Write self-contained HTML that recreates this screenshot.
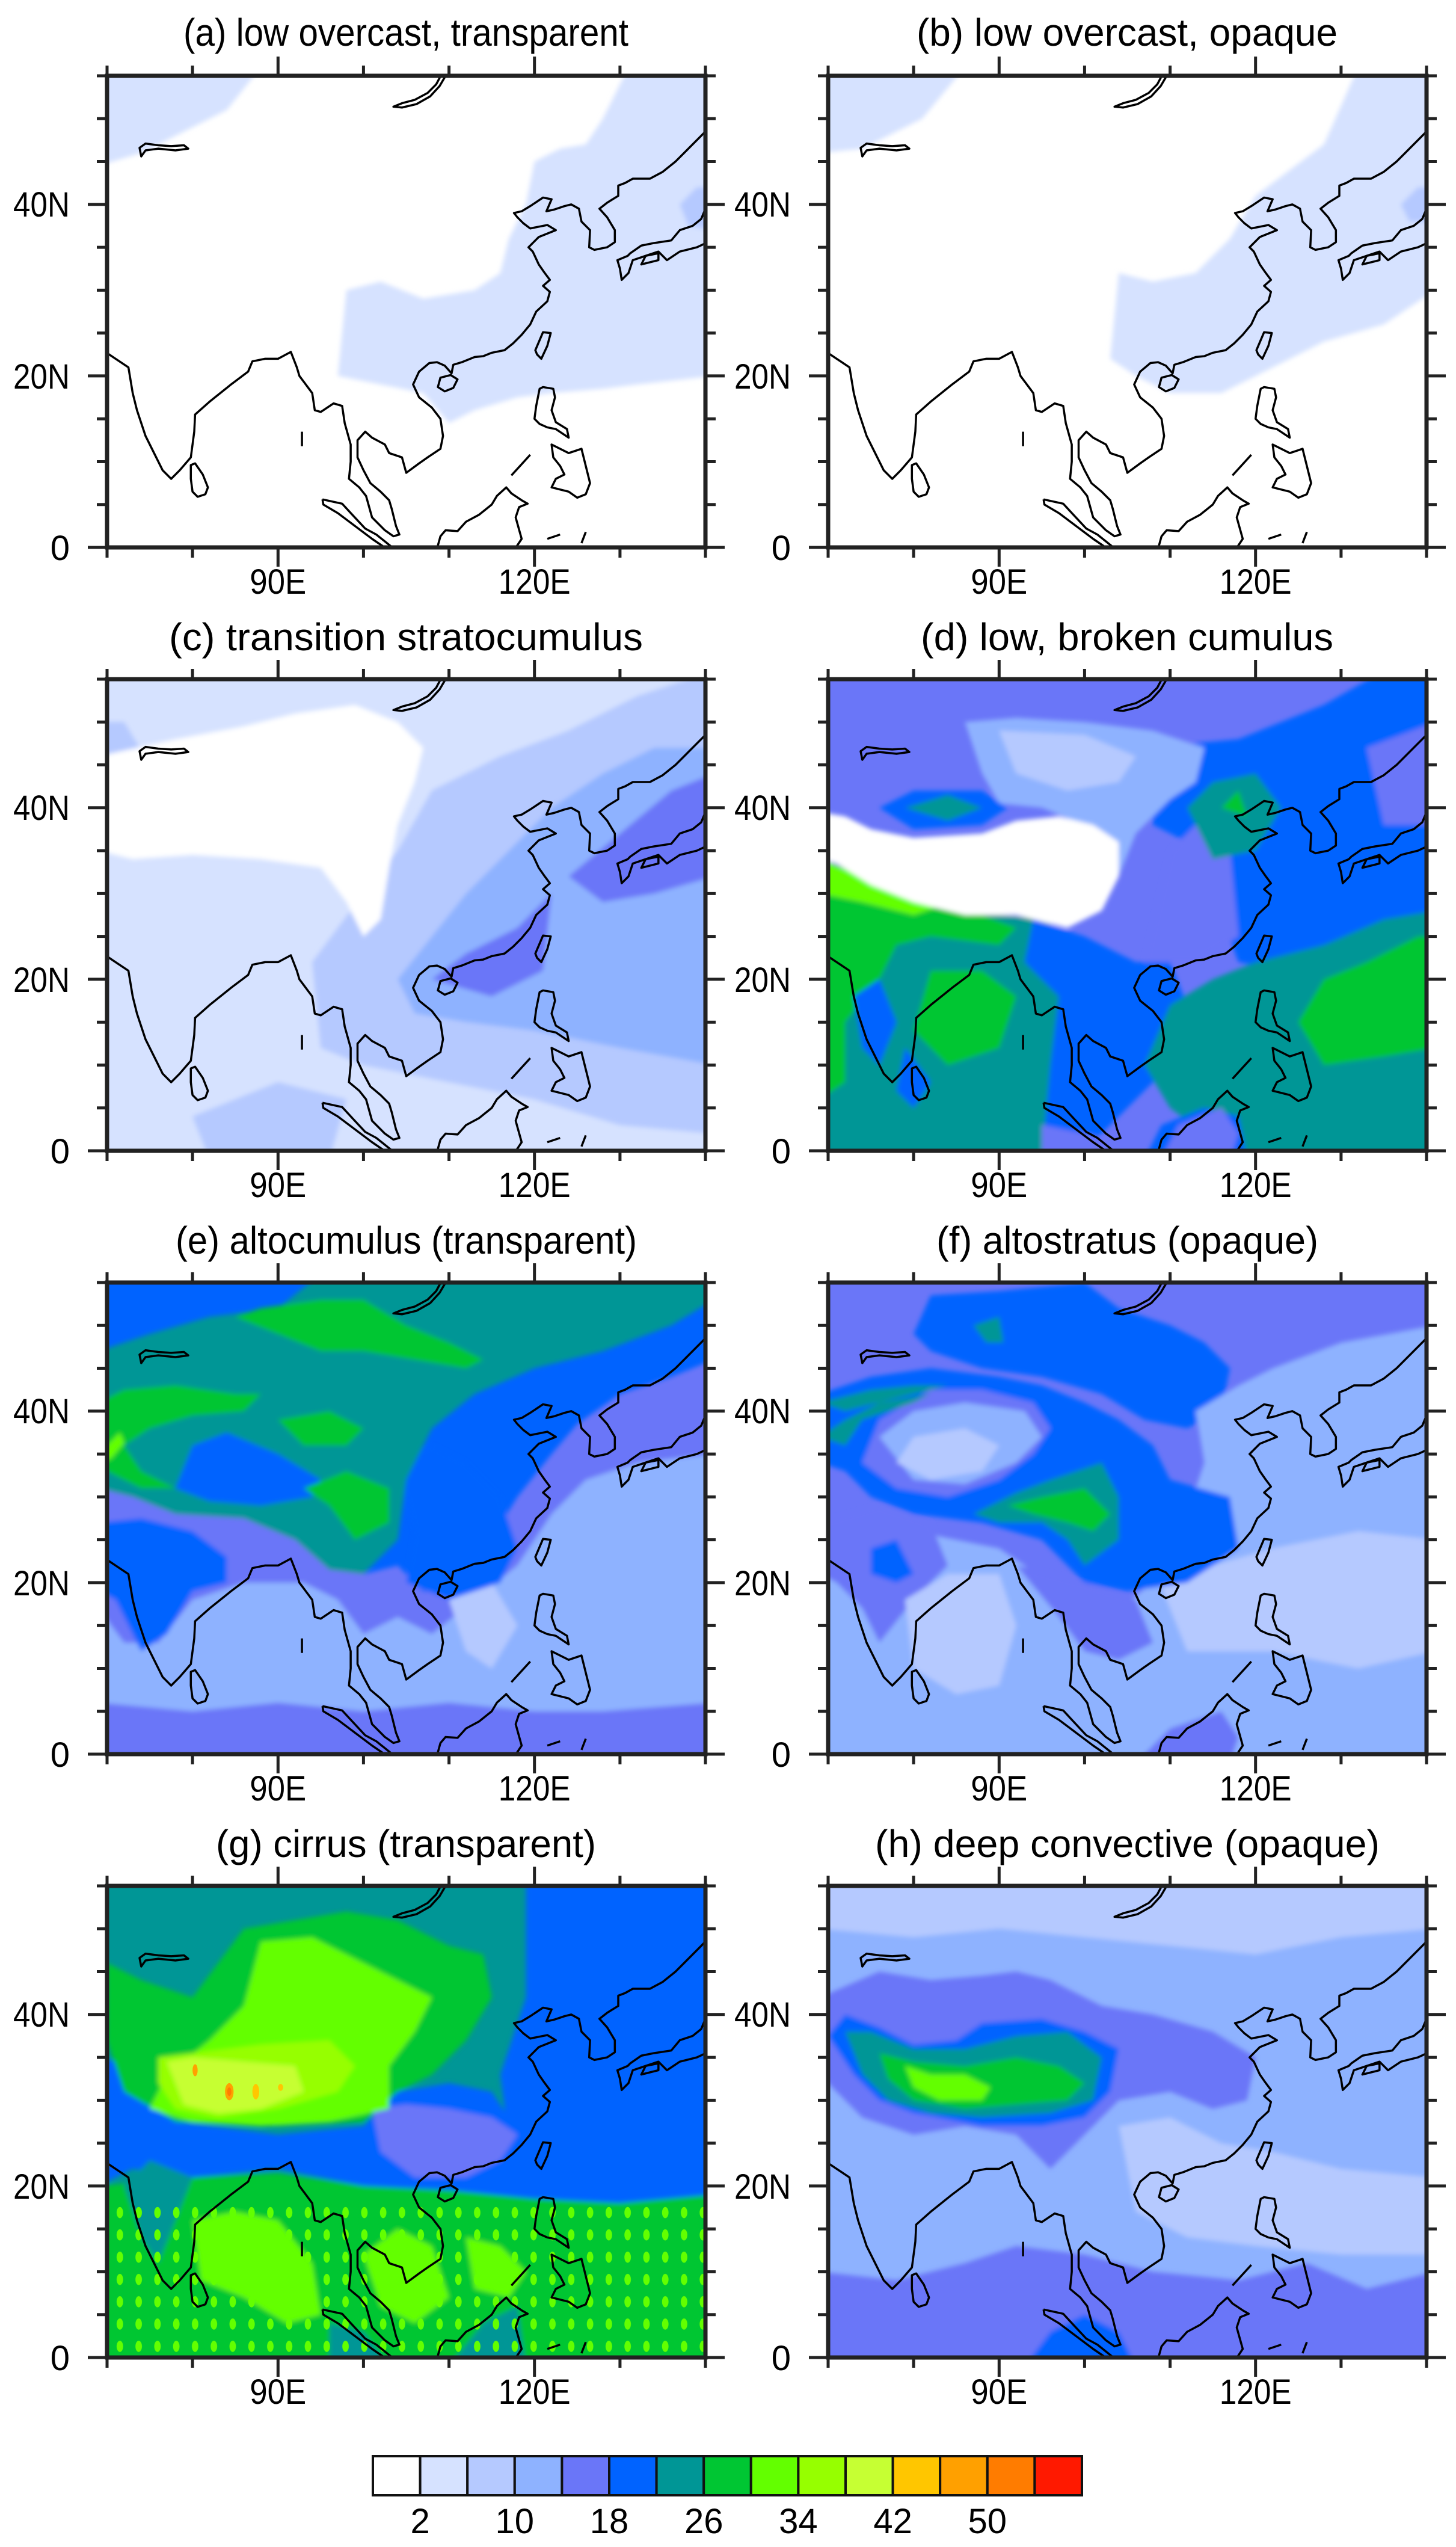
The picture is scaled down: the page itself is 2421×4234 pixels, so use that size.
<!DOCTYPE html>
<html><head><meta charset="utf-8"><style>
html,body{margin:0;padding:0;background:#fff}
svg{display:block}
text{font-family:"Liberation Sans",Arial,sans-serif;fill:#000}
</style></head><body>
<svg xmlns="http://www.w3.org/2000/svg" xmlns:xlink="http://www.w3.org/1999/xlink" width="2421" height="4234" viewBox="0 0 2421 4234">
<defs>
<filter id="b" x="-5%" y="-5%" width="110%" height="110%"><feGaussianBlur stdDeviation="0.28"/></filter>
<pattern id="sp" patternUnits="userSpaceOnUse" width="2.2" height="2.6"><ellipse cx="1.1" cy="1.3" rx="0.38" ry="0.65" fill="#63ff00"/></pattern>
<g id="coast" fill="none" stroke="#000" stroke-width="3.5" stroke-linejoin="round">
<path vector-effect="non-scaling-stroke" d="M69.5,-23 L71,-22 72.5,-21 73,-18 73.5,-16 74.5,-13 75.5,-11 76.5,-9 77.5,-8 78.5,-9 79.8,-10.5 80.2,-13.5 80.3,-15.5 82,-17 84.5,-19 86.5,-20.5 87,-21.7 88.5,-22 90,-22 91.5,-22.8 92.2,-21 92.5,-20 94,-18 94.3,-16 95,-15.8 96.5,-16.8 97.5,-16.5 97.8,-14.5 98.5,-12 98.5,-10 98.3,-8 99.5,-7 100.3,-6 101,-3.5 102.5,-2 103.5,-1.3 104.2,-1.5 103.8,-2.5 103.3,-4.5 103,-5.5 102,-6.5 100.8,-7.5 100,-9 99.3,-10.5 99.3,-12.5 100.2,-13.5 101,-12.8 102.5,-12 103,-11 104.5,-10.5 105,-8.7 106.5,-9.8 107.5,-10.5 109,-11.5 109.3,-13 109,-15 108,-16.3 106.5,-17.5 105.8,-19 106.5,-20.5 107.7,-21.5 108.6,-21.6 109.5,-21.2 110.3,-20.3 110.5,-21.3 111.5,-21.6 113,-22.2 114,-22.3 115,-22.7 116.5,-23 117.5,-23.8 118.5,-24.8 119.5,-26 120.2,-27.5 121.5,-28.7 121.8,-29.8 121,-30.5 121.8,-31.2 121.2,-32 120.5,-33 119.8,-34.5 119.3,-35 120.5,-36.2 122.5,-37 121.5,-37.6 119.5,-37.2 118.7,-37.8 118,-38.5 117.6,-39 118.5,-39.2 119.5,-39.8 121,-40.8 122,-40.6 121.4,-39.2 122.3,-39.4 123.5,-39.8 124.3,-40 125.2,-39.5 125.5,-38 126.5,-37 126.4,-35 127,-34.7 128.5,-35 129.4,-35.6 129.4,-37 128.5,-38.5 127.6,-39.5 128.5,-40.2 129.8,-41 129.8,-42.2 130.6,-42.5 131.5,-43 133.5,-43 135,-43.8 136.5,-45 138,-46.5 139,-47.5 140.5,-49"/>
<path vector-effect="non-scaling-stroke" d="M73.8,-46.6 L74.5,-47.1 76,-46.9 77.5,-46.8 79,-46.9 79.5,-46.5 78,-46.3 76,-46.5 74.5,-46.3 74,-45.6 Z"/>
<path vector-effect="non-scaling-stroke" d="M103.5,-51.4 L104.5,-51.8 106,-52.2 107.5,-53 108.5,-54 109.3,-55.5 109.9,-55.5 108.9,-53.8 107.8,-52.6 106.2,-51.7 104.5,-51.3 Z"/>
<path vector-effect="non-scaling-stroke" d="M79.8,-9.6 L80.3,-9.8 81.2,-8.5 81.8,-7 81.5,-6.2 80.6,-5.9 80,-6.5 79.8,-8 Z"/>
<path vector-effect="non-scaling-stroke" d="M120.1,-23 L121,-25.1 121.9,-25 121.5,-23.5 120.8,-22 120.3,-22.5 Z"/>
<path vector-effect="non-scaling-stroke" d="M108.7,-18.7 L109,-19.8 110.2,-20.1 111,-19.6 110.5,-18.6 109.5,-18.2 Z"/>
<path vector-effect="non-scaling-stroke" d="M95.2,-5.6 L97.5,-5.1 98.7,-3.8 100.2,-2.2 101.5,-1.5 103,-0.3 104,0.5 M103.2,0.5 L101,-1 99,-2.5 97,-4 95.3,-5 95.2,-5.6"/>
<path vector-effect="non-scaling-stroke" d="M108.5,0.5 L109,-1.3 109.6,-2 111,-1.9 112,-3 113.5,-3.8 115,-5 115.6,-6 116.7,-7 117.3,-6.3 118.5,-5.5 119.2,-5.1 118.2,-4.7 117.8,-3.5 118.5,-1 117.5,0.5"/>
<path vector-effect="non-scaling-stroke" d="M140.5,-35.7 L139,-35 137,-34.5 135.5,-33.5 134.5,-34.5 133,-34 131.5,-33.5 131,-32 130.2,-31.2 130,-32.5 129.7,-33.5 130.9,-34 131.2,-34.3 132.5,-35.2 134,-35.5 136,-35.8 137,-37 138.5,-37.5 139.5,-38.3 140,-39.5 140.5,-40"/>
<path vector-effect="non-scaling-stroke" d="M132.5,-33 L134.5,-33.5 134.5,-34.3 133,-34 Z"/>
<path vector-effect="non-scaling-stroke" d="M120.6,-18.5 L120.2,-16.5 120,-15 120.6,-14.4 121.5,-14 122.5,-13.8 124,-12.8 123.8,-13.8 122.5,-14.6 122,-16 122.4,-17.5 122.2,-18.5 121,-18.7 Z"/>
<path vector-effect="non-scaling-stroke" d="M122,-12 L124,-11 125.5,-11.5 126,-9.5 126.5,-7.5 126,-6.2 125,-5.8 124,-6.5 122,-7 122.5,-8 123.5,-8.5 123,-9.5 122.2,-10.5 Z"/>
<path vector-effect="non-scaling-stroke" d="M117.3,-8.4 L119.5,-10.8 M92.8,-13.5 L92.8,-11.8 M121.5,-1 L123,-1.5 M125.5,-0.5 L126,-1.8"/>
</g>
<g id="axes" stroke="#222" fill="none">
<rect x="0" y="0" width="995" height="784" stroke-width="7"/>
<g stroke-width="5">
<path d="M0,0V-17M142.1,0V-17M284.3,0V-32M426.4,0V-17M568.6,0V-17M710.7,0V-32M852.9,0V-17M995,0V-17"/>
<path d="M0,784V801M142.1,784V801M284.3,784V816M426.4,784V801M568.6,784V801M710.7,784V816M852.9,784V801M995,784V801"/>
<path d="M0,784H-32M0,712.7H-17M0,641.5H-17M0,570.2H-17M0,498.9H-32M0,427.6H-17M0,356.4H-17M0,285.1H-17M0,213.8H-32M0,142.5H-17M0,71.3H-17M0,0H-17"/>
<path d="M995,784H1027M995,712.7H1012M995,641.5H1012M995,570.2H1012M995,498.9H1027M995,427.6H1012M995,356.4H1012M995,285.1H1012M995,213.8H1027M995,142.5H1012M995,71.3H1012M995,0H1012"/>
</g>
</g>
<g id="lbl" font-size="58">
<text x="-156" y="234" textLength="94" lengthAdjust="spacingAndGlyphs">40N</text>
<text x="-156" y="520" textLength="94" lengthAdjust="spacingAndGlyphs">20N</text>
<text x="-62" y="805" text-anchor="end">0</text>
<text x="237.3" y="861" textLength="94" lengthAdjust="spacingAndGlyphs">90E</text>
<text x="650.7" y="861" textLength="120" lengthAdjust="spacingAndGlyphs">120E</text>
</g>
</defs>

<!-- (a) -->
<g transform="translate(178,126)">
<svg width="995" height="784" viewBox="70 -55 70 55" preserveAspectRatio="none">
<rect x="69" y="-56" width="72" height="57" fill="#fff"/>
<g filter="url(#b)">
<polygon fill="#d6e2ff" points="69,-56 88,-56 84,-51 79,-48.5 74,-46 69,-44.5"/>
<polygon fill="#d6e2ff" points="97,-20 98,-30 102,-31 107,-29 113,-30 116,-32 117,-36 119,-40 120,-45 123,-46.5 126,-47 128,-50 131,-56 141,-56 141,-20 132,-19 128,-18.5 122,-18 118,-17.5 113,-16 110,-14.5 107,-18 102,-19"/>
<polygon fill="#b5c9ff" points="137,-40 139,-42 141,-42 141,-37 138,-37.5"/>
</g>
<use xlink:href="#coast"/>
</svg>
<use xlink:href="#axes"/><use xlink:href="#lbl"/>
<text x="127" y="-50" font-size="64" textLength="740" lengthAdjust="spacingAndGlyphs">(a) low overcast, transparent</text>
</g>

<!-- (b) -->
<g transform="translate(1377,126)">
<svg width="995" height="784" viewBox="70 -55 70 55" preserveAspectRatio="none">
<rect x="69" y="-56" width="72" height="57" fill="#fff"/>
<g filter="url(#b)">
<polygon fill="#d6e2ff" points="69,-56 86,-56 81,-50 74,-46.5 69,-46"/>
<polygon fill="#d6e2ff" points="103,-22 104,-32 108,-31 113,-32 117,-36 120,-41 124,-44 128,-47 132,-56 141,-56 141,-30 135,-26 128,-24 122,-21 116,-18 110,-18 106,-20"/>
<polygon fill="#b5c9ff" points="137,-40 139,-42 141,-42 141,-38 138,-38"/>
</g>
<use xlink:href="#coast"/>
</svg>
<use xlink:href="#axes"/><use xlink:href="#lbl"/>
<text x="147" y="-50" font-size="64" textLength="700" lengthAdjust="spacingAndGlyphs">(b) low overcast, opaque</text>
</g>

<!-- (c) -->
<g transform="translate(178,1129)">
<svg width="995" height="784" viewBox="70 -55 70 55" preserveAspectRatio="none">
<rect x="69" y="-56" width="72" height="57" fill="#d6e2ff"/>
<g filter="url(#b)">
<polygon fill="#b5c9ff" points="94,-22 100,-30 104,-35 108,-42 116,-46 124,-49 132,-53 141,-56 141,-2 130,-3 120,-6 110,-8 100,-10 95,-12"/>
<polygon fill="#b5c9ff" points="69,-44 75,-45 72,-50 69,-50"/>
<polygon fill="#b5c9ff" points="80,-4 90,-8 98,-6 96,1 82,1"/>
<polygon fill="#8eb2ff" points="104,-20 108,-25 112,-30 117,-35 122,-40 128,-44 134,-47 141,-47 141,-10 130,-12 120,-14 112,-15 106,-16"/>
<polygon fill="#6a76f8" points="108,-20 112,-23 118,-26 122,-30 121,-21 115,-18"/>
<polygon fill="#6a76f8" points="124,-32 130,-37 136,-42 141,-44 141,-32 134,-30 128,-29"/>
<polygon fill="#fff" points="69,-35 69,-46 78,-48 86,-49.5 92,-51 99,-52 104,-50 107,-47 106,-43 104,-38 103,-33 102,-27 100,-25 98,-29 95,-33 88,-34 80,-34.5 73,-34"/>
</g>
<use xlink:href="#coast"/>
</svg>
<use xlink:href="#axes"/><use xlink:href="#lbl"/>
<text x="103" y="-48" font-size="64" textLength="788" lengthAdjust="spacingAndGlyphs">(c) transition stratocumulus</text>
</g>

<!-- (d) -->
<g transform="translate(1377,1129)">
<svg width="995" height="784" viewBox="70 -55 70 55" preserveAspectRatio="none">
<rect x="69" y="-56" width="72" height="57" fill="#6a76f8"/>
<g filter="url(#b)">
<polygon fill="#0063ff" points="107,-47 118,-48 128,-52 135,-56 141,-56 141,-20 128,-20 118,-22 115,-30 112,-36 108,-38"/>
<polygon fill="#6a76f8" points="110,-35 113,-38 117,-35 118,-25 113,-22 107,-22"/>
<polygon fill="#6a76f8" points="133,-47 141,-50 141,-38 135,-38"/>
<polygon fill="#009696" points="112,-40 115,-43 120,-44 123,-40 120,-35 115,-34"/>
<polygon fill="#00c633" points="116,-40 118,-42 119,-39"/>
<polygon fill="#8eb2ff" points="86,-50 92,-50.5 100,-50 108,-49 114,-47 113,-43 110,-41 106,-37 104,-32 101,-34 100,-38 95,-40 90,-40.5 88,-44"/>
<polygon fill="#b5c9ff" points="90,-49 100,-48.5 106,-46 104,-43 98,-42 92,-44"/>
<polygon fill="#009696" points="69,-34 75,-32 85,-28 95,-27 100,-24 101,1 69,1"/>
<polygon fill="#00c633" points="69,-33 75,-31 82,-28.5 88,-27.5 92,-26 90,-24 82,-25 78,-24 76,-20 72,-15 72,-8 69,-6"/>
<polygon fill="#63ff00" points="69,-34 74,-32 80,-29.5 83,-28.5 80,-27.5 74,-29 69,-30"/>
<polygon fill="#00c633" points="82,-21 88,-21 92,-18 90,-12 84,-10 80,-14"/>
<polygon fill="#0063ff" points="73,-18 76,-20 78,-15 76,-10 74,-12"/>
<polygon fill="#0063ff" points="79,-12 82,-8 80,-5 78,-7"/>
<polygon fill="#0063ff" points="94,-27 100,-25 106,-22 110,-22 112,-17 110,-10 105,-5 100,0 97,1 95,1 96,-10 97,-18 93,-22"/>
<polygon fill="#6a76f8" points="95,-3 100,-2 103,-1 101,1 95,1"/>
<polygon fill="#009696" points="110,-17 115,-20 120,-22 128,-24 135,-27 141,-28 141,1 118,1 110,-5 107,-10"/>
<polygon fill="#0063ff" points="107,1 109,-3 114,-5 118,-4 119,1"/>
<polygon fill="#6a76f8" points="109,1 111,-3 116,-5 118,-2 117,1"/>
<polygon fill="#00c633" points="125,-15 128,-20 133,-22 139,-25 141,-25 141,-12 135,-11 128,-10"/>
<polygon fill="#0063ff" points="76,-40 80,-42 88,-42 91,-40 88,-38 80,-37.5"/>
<polygon fill="#009696" points="79,-40 84,-41.5 88,-40 84,-38.5"/>
<polygon fill="#fff" points="69,-39.5 72,-39 75,-37.5 80,-36.5 88,-37 92,-38.5 97,-39 101,-38 104,-36 104,-32 102,-28 98,-26 92,-27.5 86,-27.5 80,-29 75,-31 71,-33.5 69,-34"/>
</g>
<use xlink:href="#coast"/>
</svg>
<use xlink:href="#axes"/><use xlink:href="#lbl"/>
<text x="154" y="-48" font-size="64" textLength="686" lengthAdjust="spacingAndGlyphs">(d) low, broken cumulus</text>
</g>

<!-- (e) -->
<g transform="translate(178,2132)">
<svg width="995" height="784" viewBox="70 -55 70 55" preserveAspectRatio="none">
<rect x="69" y="-56" width="72" height="57" fill="#0063ff"/>
<g filter="url(#b)">
<polygon fill="#6a76f8" points="69,-31 73,-30 78,-28 86,-27.5 92,-25 96,-22 100,-21 104,-22 107,-19 110,-19 113,-22 118,-30 122,-35 125,-38.5 130,-42 136,-44 141,-46 141,1 69,1"/>
<polygon fill="#8eb2ff" points="69,-17 72,-13 76,-13 80,-18 86,-20 93,-20 97,-18 100,-14 104,-16 108,-14 113,-18 118,-22 122,-28 126,-32 132,-34 141,-35 141,-6 128,-5 120,-5 110,-6 100,-5 90,-6 80,-5 69,-6"/>
<polygon fill="#b5c9ff" points="110,-18 115,-20 118,-15 115,-10 112,-12"/>
<polygon fill="#0063ff" points="69,-27 74,-27.5 80,-26 84,-23 84,-20 80,-19 77,-14 74,-12 71,-18 69,-19"/>
<polygon fill="#0063ff" points="104,-34 106,-26 105,-20 110,-18 116,-20 118,-24 116,-30 112,-34 108,-36"/>
<polygon fill="#009696" points="69,-47 75,-49 82,-51 90,-52 95,-56 141,-56 141,-53 136,-50 128,-47 120,-45 113,-42 108,-38 105,-32 104,-25 100,-21 96,-21.5 92,-25 86,-27.5 78,-28 73,-30 69,-31"/>
<polygon fill="#0063ff" points="78,-31 80,-36 84,-37.5 90,-35 95,-32 94,-30 88,-29 82,-29.5"/>
<polygon fill="#00c633" points="85,-51 90,-49 95,-47 100,-47 106,-46 112,-45 114,-46 110,-48 105,-50 100,-53 95,-53 88,-52"/>
<polygon fill="#00c633" points="69,-41 72,-42.5 78,-43 85,-42 88,-42 86,-40 80,-39.5 75,-38 72,-36 74,-33 78,-31 74,-31 70,-33 69,-34"/>
<polygon fill="#00c633" points="90,-39 96,-40 100,-38 98,-36 93,-36"/>
<polygon fill="#00c633" points="93,-31 98,-33 103,-31 103,-27 99,-25 96,-29"/>
<polygon fill="#63ff00" points="69,-35 71.5,-37.5 72,-36.3 70.5,-34.5 69,-34"/>
</g>
<use xlink:href="#coast"/>
</svg>
<use xlink:href="#axes"/><use xlink:href="#lbl"/>
<text x="114" y="-48" font-size="64" textLength="767" lengthAdjust="spacingAndGlyphs">(e) altocumulus (transparent)</text>
</g>

<!-- (f) -->
<g transform="translate(1377,2132)">
<svg width="995" height="784" viewBox="70 -55 70 55" preserveAspectRatio="none">
<rect x="69" y="-56" width="72" height="57" fill="#6a76f8"/>
<g filter="url(#b)">
<polygon fill="#0063ff" points="82,-53.5 90,-54 100,-55 104,-52 110,-50 114,-48 117,-45 116,-40 112,-38 107,-39 102,-42 95,-44 88,-45 82,-47 80,-49"/>
<polygon fill="#009696" points="87,-50 90,-51 90.5,-48 88.5,-48"/>
<polygon fill="#8eb2ff" points="113,-40 118,-43 122,-45 130,-48 141,-50 141,1 69,1 69,-27 74,-28 80,-26 85,-25 90,-24 93,-22 96,-18 100,-15 104,-17 108,-20 110,-24 112,-28 114,-34"/>
<polygon fill="#6a76f8" points="92,-22 100,-20 106,-18 108,-13 104,-11 100,-12 97,-16"/>
<polygon fill="#6a76f8" points="69,-27 76,-29 82,-27 84,-22 80,-18 76,-13 74,-17 71,-20 69,-21"/>
<polygon fill="#0063ff" points="75,-24 78,-25 80,-21 78,-20 75,-21"/>
<polygon fill="#b5c9ff" points="79,-18 84,-21 90,-21 92,-15 90,-8 85,-7 80,-10"/>
<polygon fill="#b5c9ff" points="108,-22 115,-22 122,-24 132,-26 141,-25 141,-12 132,-10 122,-12 112,-12"/>
<polygon fill="#6a76f8" points="106,1 110,-3 116,-5 118,-2 117,1"/>
<polygon fill="#0063ff" points="69,-42 75,-44 82,-45 90,-44 95,-43 100,-41 104,-39 108,-36 110,-32 117,-30 118,-24 112,-20 105,-19 100,-20 95,-25 88,-27 80,-28 75,-30 72,-33 69,-34"/>
<polygon fill="#6a76f8" points="74,-34 76,-39 82,-42.5 88,-42.5 94,-41 96,-38 94,-35 90,-32 84,-30 78,-31"/>
<polygon fill="#8eb2ff" points="76,-37 80,-40 86,-41 93,-40 95,-37 92,-34 86,-31.5 80,-32"/>
<polygon fill="#b5c9ff" points="78,-34 80,-37 86,-38 90,-36 88,-33 82,-32"/>
<polygon fill="#009696" points="87,-28 92,-30.5 96,-32 102,-34 104,-30 104,-25 100,-22 98,-25 95,-27 90,-27"/>
<polygon fill="#00c633" points="91,-29 95,-30 100,-31 103,-28 101,-26 98,-27 94,-28"/>
<polygon fill="#009696" points="69,-37 72,-39 76,-41 82,-42 80,-41 74,-39 72,-36"/>
<polygon fill="#009696" points="69,-41 75,-42.5 80,-43 84,-43 78,-41.5 72,-40"/>
</g>
<use xlink:href="#coast"/>
</svg>
<use xlink:href="#axes"/><use xlink:href="#lbl"/>
<text x="180" y="-48" font-size="64" textLength="635" lengthAdjust="spacingAndGlyphs">(f) altostratus (opaque)</text>
</g>

<!-- (g) -->
<g transform="translate(178,3135)">
<svg width="995" height="784" viewBox="70 -55 70 55" preserveAspectRatio="none">
<rect x="69" y="-56" width="72" height="57" fill="#009696"/>
<g filter="url(#b)">
<polygon fill="#0063ff" points="119,-56 141,-56 141,-19 120,-19 117,-25 116,-33 119,-42"/>
<polygon fill="#0063ff" points="69,-35 73,-34 78,-27.5 90,-26 100,-27 104,-31 110,-32 115,-31 119,-25 141,-21 141,-18 125,-18 110,-19 100,-20 90,-22 80,-21 73,-22 69,-20"/>
<polygon fill="#6a76f8" points="101,-29 105,-29.5 110,-29 115,-28 118,-26 116,-23 112,-21 106,-21 102,-24"/>
<polygon fill="#00c633" points="69,-20 80,-21 90,-21.5 100,-20 110,-19.5 120,-18.5 130,-18 141,-19 141,1 69,1"/>
<polygon fill="#009696" points="72,-20 75,-23 80,-21 78,-16 76,-11 74,-14"/>
<polygon fill="#63ff00" points="80,-16 85,-17 90,-16 94,-11 95,-5 91,-4 86,-7 81,-9"/>
<polygon fill="#63ff00" points="100,-12 104,-15 108,-13 110,-7 106,-4 102,-6"/>
<polygon fill="#63ff00" points="112,-14 116,-13 119,-10 117,-7 113,-8"/>
<polygon fill="#009696" points="96,-4 100,-3 103,1 96,1"/>
<polygon fill="#009696" points="110,1 114,-4 118,-6 119,1"/>
<polygon fill="#00c633" points="70,-46 74,-44 80,-42 86,-50 92,-51 98,-52 104,-51 110,-48 114,-47 115,-42 112,-37 108,-33 104,-31 100,-27.5 90,-27 78,-27.5 72,-31 70,-37"/>
<polygon fill="#63ff00" points="88,-48.5 94,-49 100,-46 104,-44 108,-42 106,-38 103,-34 103,-29 96,-27.5 88,-27 80,-27.5 75,-29 77,-33 82,-37 86,-41"/>
<polygon fill="#96ff00" points="76,-35 80,-35.5 88,-36.5 96,-37 99,-34 97,-31 90,-29 83,-28 78,-29 76,-32"/>
<polygon fill="#c6ff33" points="77,-34.5 80,-35 86,-34.5 92,-34 93,-31 88,-29 83,-28.5 79,-29.5"/>
</g>
<rect x="69" y="-18" width="72" height="19" fill="url(#sp)"/>
<ellipse cx="84.3" cy="-31" rx="0.5" ry="1" fill="#ffa000"/>
<ellipse cx="84.3" cy="-31" rx="0.25" ry="0.5" fill="#ff7c00"/>
<ellipse cx="87.4" cy="-31" rx="0.4" ry="0.9" fill="#ffc600"/>
<ellipse cx="80.3" cy="-33.5" rx="0.3" ry="0.7" fill="#ffa000"/>
<ellipse cx="90.3" cy="-31.5" rx="0.3" ry="0.4" fill="#ffc600"/>
<use xlink:href="#coast"/>
</svg>
<use xlink:href="#axes"/><use xlink:href="#lbl"/>
<text x="181" y="-48" font-size="64" textLength="632" lengthAdjust="spacingAndGlyphs">(g) cirrus (transparent)</text>
</g>

<!-- (h) -->
<g transform="translate(1377,3135)">
<svg width="995" height="784" viewBox="70 -55 70 55" preserveAspectRatio="none">
<rect x="69" y="-56" width="72" height="57" fill="#8eb2ff"/>
<g filter="url(#b)">
<polygon fill="#b5c9ff" points="69,-56 141,-56 141,-50 130,-49 120,-47 110,-48 100,-49 90,-50 80,-49 69,-50"/>
<polygon fill="#b5c9ff" points="104,-27 110,-28 116,-25 122,-24 130,-22 141,-21 141,-12 130,-12 120,-13 112,-14 106,-17"/>
<polygon fill="#6a76f8" points="69,-33 69,-42 76,-45 82,-44 88,-44.5 92,-45 96,-44 102,-41 108,-40 115,-38 120,-35 119,-30 115,-29 110,-31 104,-30 100,-26 96,-22 92,-26 86,-27 80,-26 74,-28"/>
<polygon fill="#6a76f8" points="69,1 69,-10 78,-9 86,-11 92,-13 100,-12 108,-10 118,-9 126,-11 133,-8 141,-10 141,1"/>
<polygon fill="#0063ff" points="93,1 96,-3 100,-5 104,-3 106,1"/>
<polygon fill="#0063ff" points="70,-37.5 72,-40 76,-38.5 80,-36.5 85,-37 88,-39 95,-39.5 100,-38 104,-36 103,-31 100,-28 95,-27 88,-27 80,-28.5 76,-30 73,-33"/>
<polygon fill="#009696" points="72,-38 75,-38 80,-36 86,-36 92,-37.5 98,-38 102,-35 101,-30 96,-28.5 88,-28 82,-28.5 77,-30 74,-33"/>
<polygon fill="#00c633" points="76,-35.5 80,-34.5 86,-34 92,-35 97,-34 100,-32 98,-30 92,-29.5 86,-29 80,-30 77,-32.5"/>
<polygon fill="#63ff00" points="79,-34 82,-33 86,-33 89,-31.5 88,-30 83,-30 80,-31.5"/>
</g>
<use xlink:href="#coast"/>
</svg>
<use xlink:href="#axes"/><use xlink:href="#lbl"/>
<text x="78" y="-48" font-size="64" textLength="839" lengthAdjust="spacingAndGlyphs">(h) deep convective (opaque)</text>
</g>

<!-- colorbar -->
<g stroke="#111" stroke-width="4">
<rect x="620" y="4083" width="78.6" height="65" fill="#ffffff"/>
<rect x="698.6" y="4083" width="78.6" height="65" fill="#d6e2ff"/>
<rect x="777.2" y="4083" width="78.6" height="65" fill="#b5c9ff"/>
<rect x="855.8" y="4083" width="78.6" height="65" fill="#8eb2ff"/>
<rect x="934.4" y="4083" width="78.6" height="65" fill="#6a76f8"/>
<rect x="1013" y="4083" width="78.6" height="65" fill="#0063ff"/>
<rect x="1091.6" y="4083" width="78.6" height="65" fill="#009696"/>
<rect x="1170.2" y="4083" width="78.6" height="65" fill="#00c633"/>
<rect x="1248.8" y="4083" width="78.6" height="65" fill="#63ff00"/>
<rect x="1327.4" y="4083" width="78.6" height="65" fill="#96ff00"/>
<rect x="1406" y="4083" width="78.6" height="65" fill="#c6ff33"/>
<rect x="1484.6" y="4083" width="78.6" height="65" fill="#ffc600"/>
<rect x="1563.2" y="4083" width="78.6" height="65" fill="#ffa000"/>
<rect x="1641.8" y="4083" width="78.6" height="65" fill="#ff7c00"/>
<rect x="1720.4" y="4083" width="78.6" height="65" fill="#ff1900"/>
</g>
<g font-size="58" text-anchor="middle">
<text x="698.6" y="4211">2</text>
<text x="855.8" y="4211">10</text>
<text x="1013" y="4211">18</text>
<text x="1170.2" y="4211">26</text>
<text x="1327.4" y="4211">34</text>
<text x="1484.6" y="4211">42</text>
<text x="1641.8" y="4211">50</text>
</g>
</svg>
</body></html>
